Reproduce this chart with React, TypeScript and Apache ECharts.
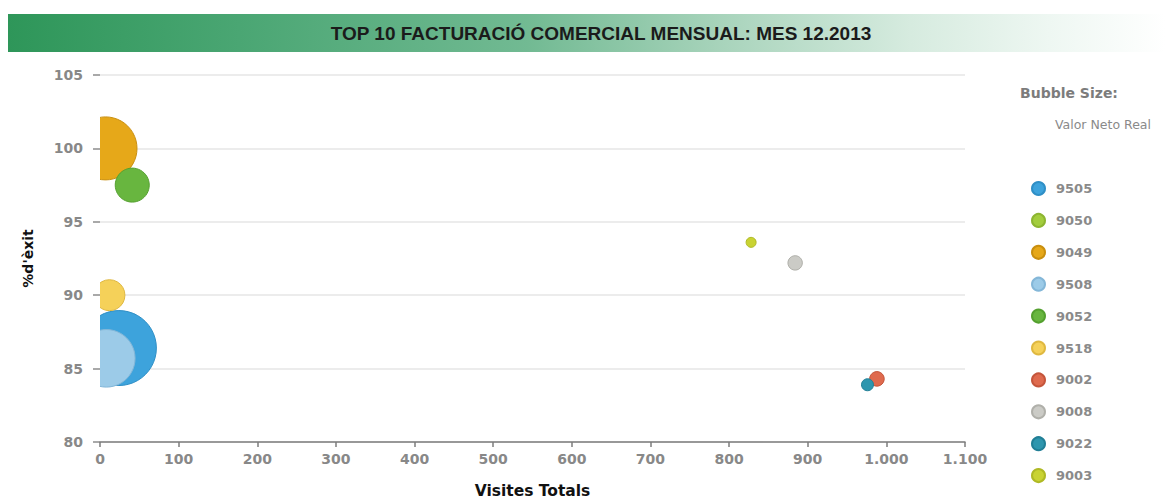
import React, { useEffect, useRef } from "react";
import * as echarts from "echarts";

// Commercial codes, in legend order
const codes = ["9505", "9050", "9049", "9508", "9052", "9518", "9002", "9008", "9022", "9003"];
// Visites Totals (x)
const visites: (number | null)[] = [24, null, 7, 8, 41, 12, 988, 884, 976, 828];
// % d'èxit (y)
const exit: (number | null)[] = [86.4, null, 100.0, 85.7, 97.5, 90.0, 84.3, 92.2, 83.9, 93.6];
// Valor Neto Real (bubble size)
const valorNeto: (number | null)[] = [140600, null, 99200, 82900, 28900, 24000, 5300, 5200, 3600, 2500];

const bubbleColors = ["#3da3dc", "#a3cd3d", "#e6a819", "#9ccbe8", "#68b63f", "#f5d159", "#df6a4e", "#cbcbc6", "#2e96ae", "#c9d332"];
const bubbleBorders = ["#2f8fc6", "#8db531", "#c98f0f", "#84b7d8", "#54a02f", "#dfb840", "#c4553b", "#b0b0aa", "#217f96", "#afb925"];

const xTicks = { min: 0, max: 1100, interval: 100 };
const yTicks = { min: 80, max: 105, interval: 5 };

const title = "TOP 10 FACTURACIÓ COMERCIAL MENSUAL: MES 12.2013";
const xName = "Visites Totals";
const yName = "%d'èxit";
const sizeTitle = "Bubble Size:";
const sizeField = "Valor Neto Real";

// bubble area proportional to Valor Neto Real
const radiusOf = (v: number) => 0.1 * Math.sqrt(v);

const fmtThousands = (v: number) =>
  String(v).replace(/\B(?=(\d{3})+(?!\d))/g, ".");

export default function App() {
  const ref = useRef<HTMLDivElement>(null);

  useEffect(() => {
    if (!ref.current) return;
    const chart = echarts.init(ref.current, undefined, { renderer: "svg" });

    const series = codes.map((code, i) => {
      const data =
        visites[i] == null || exit[i] == null || valorNeto[i] == null
          ? []
          : [[visites[i], exit[i], valorNeto[i]]];
      return {
        name: code,
        type: "custom",
        clip: true,
        z: 2,
        itemStyle: { color: bubbleColors[i], borderColor: bubbleBorders[i], borderWidth: 1 },
        encode: { x: 0, y: 1 },
        data,
        renderItem: (params: any, api: any) => {
          const pt = api.coord([api.value(0), api.value(1)]);
          const r = radiusOf(api.value(2));
          return {
            type: "circle",
            shape: { cx: pt[0], cy: pt[1], r },
            style: {
              fill: bubbleColors[i],
              stroke: bubbleBorders[i],
              lineWidth: 1,
            },
          };
        },
      };
    });

    const labelFont = {
      fontFamily: "'DejaVu Sans', sans-serif",
      fontWeight: "bold" as const,
      fontSize: 14,
      color: "#888888",
    };

    chart.setOption({
      animation: false,
      textStyle: { fontFamily: "'DejaVu Sans', sans-serif" },
      grid: { left: 100, right: 200, top: 75, bottom: 58, containLabel: false },
      xAxis: {
        type: "value",
        min: xTicks.min,
        max: xTicks.max,
        interval: xTicks.interval,
        name: xName,
        nameLocation: "middle",
        nameGap: 41,
        nameTextStyle: {
          fontFamily: "'DejaVu Sans', sans-serif",
          fontWeight: "bold",
          fontSize: 15.5,
          color: "#111",
        },
        axisLine: { show: true, lineStyle: { color: "#7d7d7d", width: 1.5 } },
        axisTick: { show: true, length: 5, lineStyle: { color: "#7d7d7d", width: 1.5 } },
        axisLabel: { ...labelFont, margin: 10, formatter: (v: number) => fmtThousands(v) },
        splitLine: { show: false },
      },
      yAxis: {
        type: "value",
        min: yTicks.min,
        max: yTicks.max,
        interval: yTicks.interval,
        name: yName,
        nameLocation: "middle",
        nameGap: 65,
        nameRotate: 90,
        nameTextStyle: {
          fontFamily: "'DejaVu Sans', sans-serif",
          fontWeight: "bold",
          fontSize: 14,
          color: "#111",
        },
        axisLine: { show: false },
        axisTick: { show: true, length: 7, lineStyle: { color: "#8c8c8c", width: 1.5 } },
        axisLabel: { ...labelFont, margin: 17 },
        splitLine: { show: true, lineStyle: { color: "#e6e6e6", width: 1.5 } },
      },
      legend: {
        orient: "vertical",
        left: 1026,
        top: 176,
        height: 325,
        icon: "circle",
        itemWidth: 13,
        itemHeight: 13,
        itemGap: 16.9,
        data: codes,
        textStyle: {
          fontFamily: "'DejaVu Sans', sans-serif",
          fontWeight: "bold",
          fontSize: 13,
          lineHeight: 13,
          color: "#8a8a8a",
          padding: [0, 0, 0, 6],
        },
      },
      graphic: [
        {
          type: "rect",
          left: 8,
          top: 14,
          z: 0,
          shape: { x: 0, y: 0, width: 1157, height: 38 },
          style: {
            fill: new echarts.graphic.LinearGradient(0, 0, 1, 0, [
              { offset: 0, color: "#2e9659" },
              { offset: 0.2, color: "#4aa673" },
              { offset: 0.45, color: "#72ba93" },
              { offset: 0.62, color: "#a9d4bc" },
              { offset: 0.78, color: "#d6ebdf" },
              { offset: 0.9, color: "#eef7f2" },
              { offset: 1, color: "#ffffff" },
            ]),
          },
        },
        {
          type: "text",
          x: 601,
          y: 33,
          z: 1,
          style: {
            text: title,
            align: "center",
            verticalAlign: "middle",
            fontFamily: "'Liberation Sans Narrow', 'Liberation Sans', sans-serif",
            fontWeight: "bold",
            fontSize: 19,
            fill: "#1b1b1b",
          },
        },
        {
          type: "text",
          x: 1020,
          y: 93,
          style: {
            text: sizeTitle,
            verticalAlign: "middle",
            fontFamily: "'DejaVu Sans', sans-serif",
            fontWeight: "bold",
            fontSize: 14,
            fill: "#7c7c7c",
          },
        },
        {
          type: "text",
          x: 1055,
          y: 124,
          style: {
            text: sizeField,
            verticalAlign: "middle",
            fontFamily: "'DejaVu Sans', sans-serif",
            fontSize: 12.5,
            fill: "#8a8a8a",
          },
        },
      ],
      series,
    });

    return () => chart.dispose();
  }, []);

  return (
    <div
      ref={ref}
      style={{ position: "fixed", left: 0, top: 0, width: 1165, height: 504, background: "#fff" }}
    />
  );
}
